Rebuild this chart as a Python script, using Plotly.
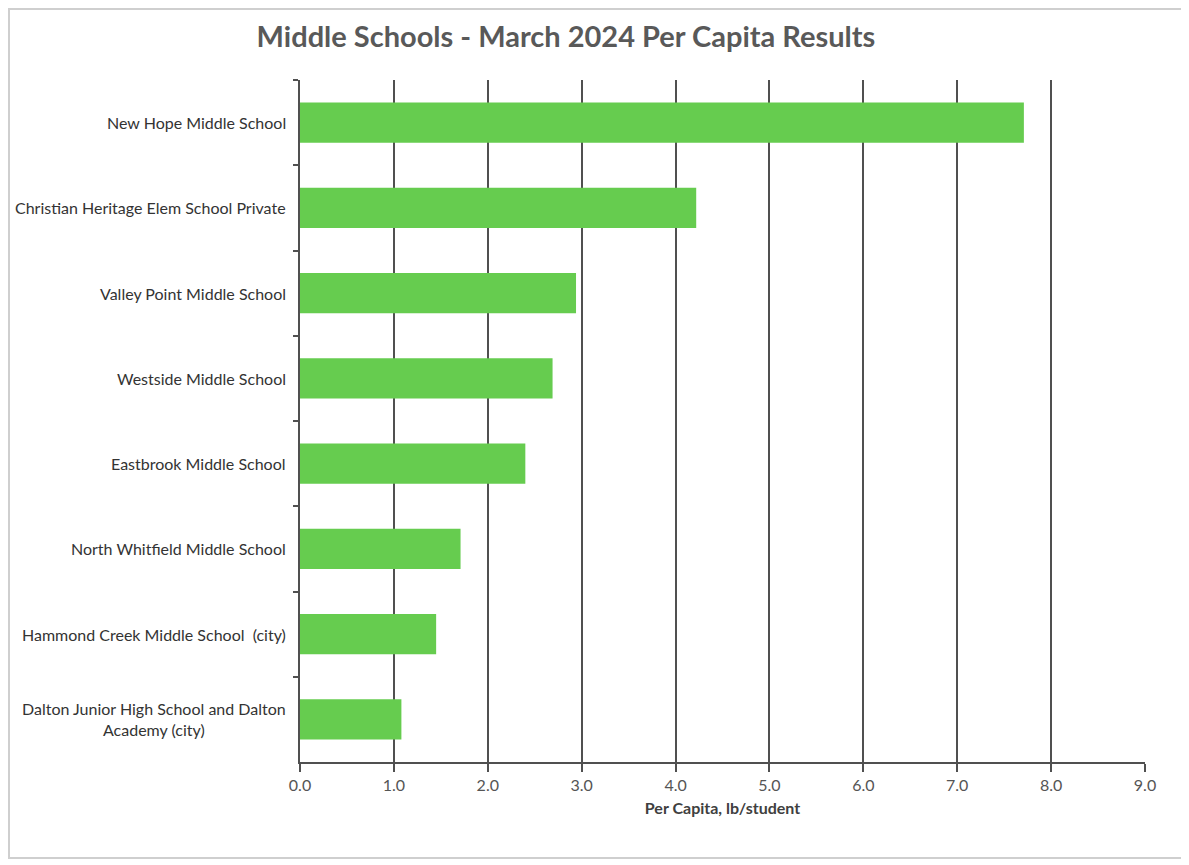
import plotly.graph_objects as go

schools = [
    "New Hope Middle School",
    "Christian Heritage Elem School Private",
    "Valley Point Middle School",
    "Westside Middle School",
    "Eastbrook Middle School",
    "North Whitfield Middle School",
    "Hammond Creek Middle School  (city)",
    "Dalton Junior High School and Dalton<br>Academy (city)",
]
per_capita = [7.71, 4.22, 2.94, 2.69, 2.40, 1.71, 1.45, 1.08]
x_ticks = [0, 1, 2, 3, 4, 5, 6, 7, 8, 9]
x_tick_labels = ["0.0", "1.0", "2.0", "3.0", "4.0", "5.0", "6.0", "7.0", "8.0", "9.0"]

FONT = "Lato"
# page has an 8px default body margin; figure sized to fit the viewport
W, H = 1181, 857
L, R, T, B = 292, 44, 72, 103
pw, ph = W - L - R, H - T - B

fig = go.Figure(
    go.Bar(
        x=per_capita,
        y=schools,
        orientation="h",
        marker=dict(color="#66CC4F", line=dict(width=0)),
        width=0.47,
    )
)

annotations = [
    dict(
        x=0,
        xref="paper",
        y=s,
        yref="y",
        text=s,
        showarrow=False,
        xanchor="right",
        yanchor="middle",
        align="center",
        xshift=-12,
        font=dict(family=FONT, size=16, color="#333333"),
    )
    for s in schools
]

fig.update_layout(
    width=W,
    height=H,
    margin=dict(l=L, r=R, t=T, b=B),
    paper_bgcolor="white",
    plot_bgcolor="white",
    showlegend=False,
    font=dict(family=FONT, color="#404040", size=16),
    title=dict(
        text="<b>Middle Schools - March 2024 Per Capita Results</b>",
        x=558 / W,
        xanchor="center",
        y=1 - 29 / H,
        yanchor="middle",
        font=dict(family=FONT, size=29, color="#595959"),
    ),
    xaxis=dict(
        range=[0, 9],
        tickvals=x_ticks,
        ticktext=x_tick_labels,
        showgrid=True,
        gridcolor="#505050",
        gridwidth=2,
        zeroline=False,
        showline=True,
        linecolor="#505050",
        linewidth=2,
        ticks="outside",
        ticklen=8,
        tickwidth=2,
        tickcolor="#505050",
        tickfont=dict(size=16, color="#555555"),
        title=dict(
            text="<b>Per Capita, lb/student</b>",
            font=dict(size=16, color="#404040"),
            standoff=10,
        ),
    ),
    yaxis=dict(
        categoryorder="array",
        categoryarray=schools,
        autorange="reversed",
        showline=True,
        linecolor="#505050",
        linewidth=2,
        ticks="outside",
        tickson="boundaries",
        ticklen=5,
        tickwidth=2,
        tickcolor="#505050",
        showgrid=False,
        showticklabels=False,
    ),
    annotations=annotations,
    shapes=[
        dict(
            type="rect",
            xref="paper",
            yref="paper",
            x0=(1 - L) / pw,
            x1=(1175 - L) / pw,
            y0=-(850 - (H - B)) / ph,
            y1=1 + (T - 1) / ph,
            line=dict(color="#cfcfcf", width=2),
            fillcolor="rgba(0,0,0,0)",
            layer="below",
        )
    ],
)

fig.write_html("out.html")
